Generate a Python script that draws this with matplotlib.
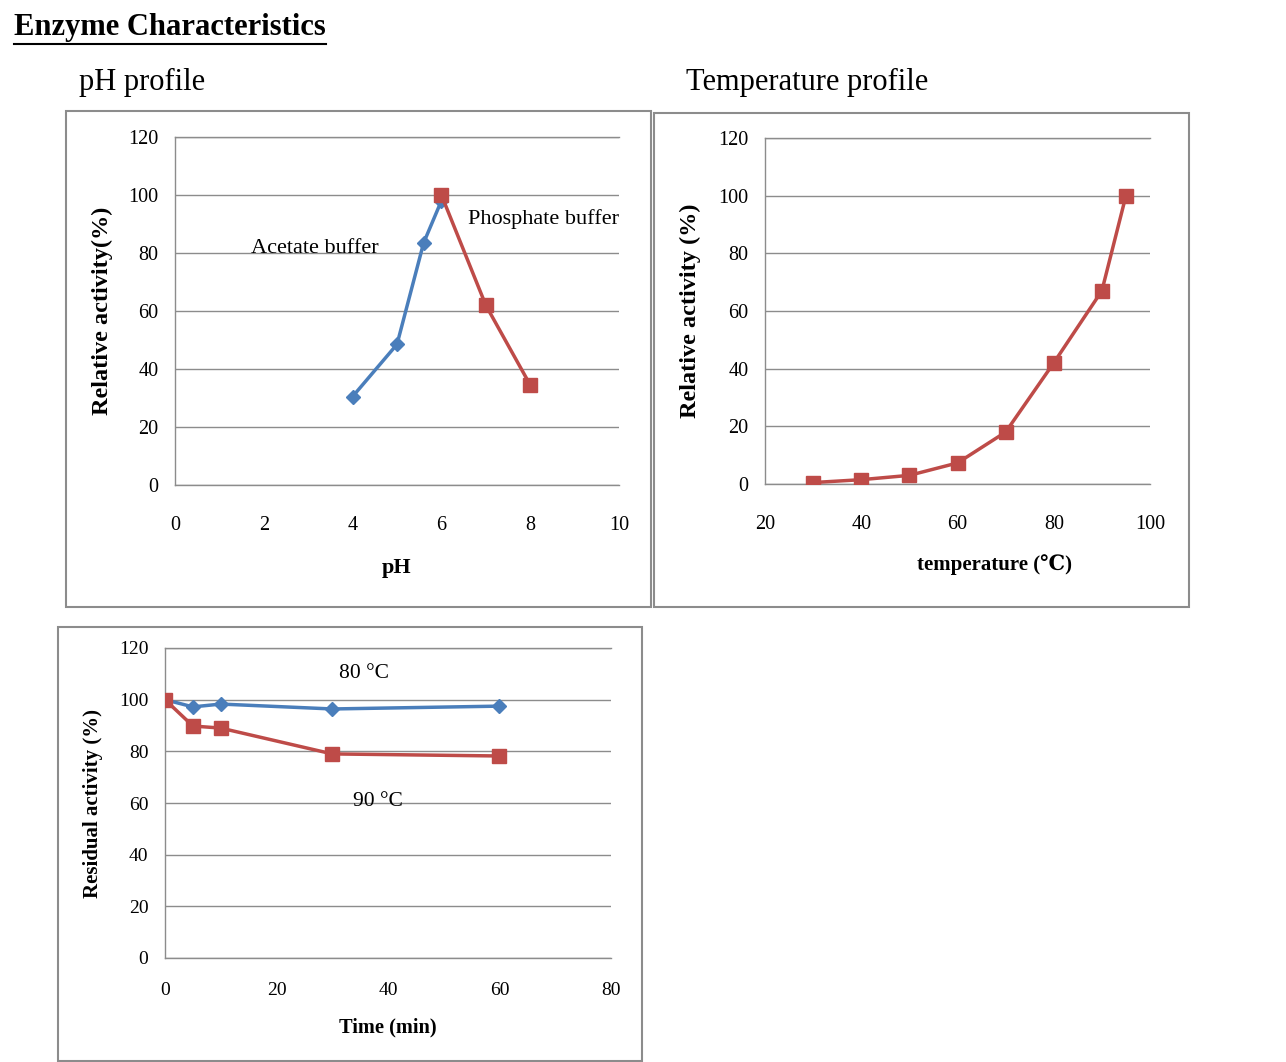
import matplotlib
matplotlib.use("Agg")
import matplotlib.pyplot as plt
from matplotlib.patches import Rectangle
from matplotlib.lines import Line2D

plt.rcParams['font.family'] = ['Liberation Serif', 'DejaVu Serif', 'Noto Sans CJK JP']

W, H = 1286, 1062
BLUE = '#4A7EBB'
RED = '#BE4B48'
GRID = '#8C8C8C'
BORDER = '#8C8C8C'

# pH profile
ph_acetate = [4, 5, 5.6, 6]
act_acetate = [30.5, 48.5, 83.5, 98]
ph_phosphate = [6, 7, 8]
act_phosphate = [100, 62, 34.5]

# temperature profile
temp_c = [30, 40, 50, 60, 70, 80, 90, 95]
act_temp = [0.5, 1.5, 3, 7.3, 18, 42, 67, 100]

# thermostability
time_min = [0, 5, 10, 30, 60]
resid_80 = [100, 97.2, 98.3, 96.4, 97.5]
resid_90 = [100, 89.8, 89, 79, 78.2]


def fig_rect(l, t, r, b):
    return [l / W, 1 - b / H, (r - l) / W, (b - t) / H]


def style_axes(ax, xlim, xticks, ylim, yticks, fs, xpad):
    ax.set_xlim(*xlim)
    ax.set_ylim(*ylim)
    ax.set_xticks(xticks)
    ax.set_yticks(yticks)
    ax.grid(axis='y', color=GRID, linewidth=1)
    ax.set_axisbelow(True)
    ax.spines['right'].set_visible(False)
    for s in ('left', 'top', 'bottom'):
        ax.spines[s].set_color(GRID)
        ax.spines[s].set_linewidth(1)
    ax.tick_params(axis='both', length=0, labelsize=fs)
    ax.tick_params(axis='x', pad=xpad)
    ax.tick_params(axis='y', pad=12)


fig = plt.figure(figsize=(W / 100, H / 100), dpi=100)

# panel borders
for l, t, r, b in [(66, 111, 651, 607), (654, 113, 1189, 607), (58, 627, 642, 1061)]:
    fig.patches.append(Rectangle((l / W, 1 - b / H), (r - l) / W, (b - t) / H,
                                 transform=fig.transFigure, fill=False,
                                 edgecolor=BORDER, linewidth=1.5))

title = fig.text(14 / W, 1 - 27 / H, 'Enzyme Characteristics', fontsize=22,
                 fontweight='bold', ha='left', va='center')
fig.text(79 / W, 1 - 82 / H, 'pH profile', fontsize=22, ha='left', va='center')
fig.text(686 / W, 1 - 82 / H, 'Temperature profile', fontsize=22, ha='left', va='center')

# pH panel
ax1 = fig.add_axes(fig_rect(175, 137, 619, 485))
style_axes(ax1, (0, 10), range(0, 11, 2), (0, 120), range(0, 121, 20), 14.5, 22)
ax1.plot(ph_acetate, act_acetate, color=BLUE, lw=2.5, marker='D', ms=7, zorder=3)
ax1.plot(ph_phosphate, act_phosphate, color=RED, lw=2.5, marker='s', ms=10, zorder=4)
ax1.text(3.15, 81.7, 'Acetate buffer', fontsize=16, ha='center', va='center')
ax1.text(8.29, 91.7, 'Phosphate buffer', fontsize=16, ha='center', va='center')
ax1.set_xlabel('pH', fontsize=16, fontweight='bold', va='center')
ax1.set_ylabel('Relative activity(%)', fontsize=17.5, fontweight='bold', va='center')
ax1.xaxis.set_label_coords(0.5, -0.239)
ax1.yaxis.set_label_coords(-0.164, 0.5)

# temperature panel
ax2 = fig.add_axes(fig_rect(765, 138, 1150, 484))
style_axes(ax2, (20, 100), range(20, 101, 20), (0, 120), range(0, 121, 20), 14.5, 22)
ax2.plot(temp_c, act_temp, color=RED, lw=2.5, marker='s', ms=10, zorder=3)
ax2.set_xlabel('temperature (℃)', fontsize=15, fontweight='bold', va='center')
ax2.set_ylabel('Relative activity (%)', fontsize=17.5, fontweight='bold', va='center')
ax2.xaxis.set_label_coords(0.595, -0.234)
ax2.yaxis.set_label_coords(-0.195, 0.5)

# thermostability panel
ax3 = fig.add_axes(fig_rect(165, 648, 611, 958))
style_axes(ax3, (0, 80), range(0, 81, 20), (0, 120), range(0, 121, 20), 14, 17.5)
ax3.plot(time_min, resid_80, color=BLUE, lw=2.5, marker='D', ms=7, zorder=3)
ax3.plot(time_min, resid_90, color=RED, lw=2.5, marker='s', ms=10, zorder=4)
ax3.text(35.7, 110, '80 °C', fontsize=15.5, ha='center', va='center')
ax3.text(38.2, 60.4, '90 °C', fontsize=15.5, ha='center', va='center')
ax3.set_xlabel('Time (min)', fontsize=14.7, fontweight='bold', va='center')
ax3.set_ylabel('Residual activity (%)', fontsize=15, fontweight='bold', va='center')
ax3.xaxis.set_label_coords(0.5, -0.223)
ax3.yaxis.set_label_coords(-0.161, 0.5)

# underline the heading
fig.canvas.draw()
bb = title.get_window_extent().transformed(fig.transFigure.inverted())
fig.lines.append(Line2D([bb.x0, bb.x1], [bb.y0 - 0.002, bb.y0 - 0.002],
                        transform=fig.transFigure, color='black', lw=1.5))

fig.savefig('out.png', dpi=100)
